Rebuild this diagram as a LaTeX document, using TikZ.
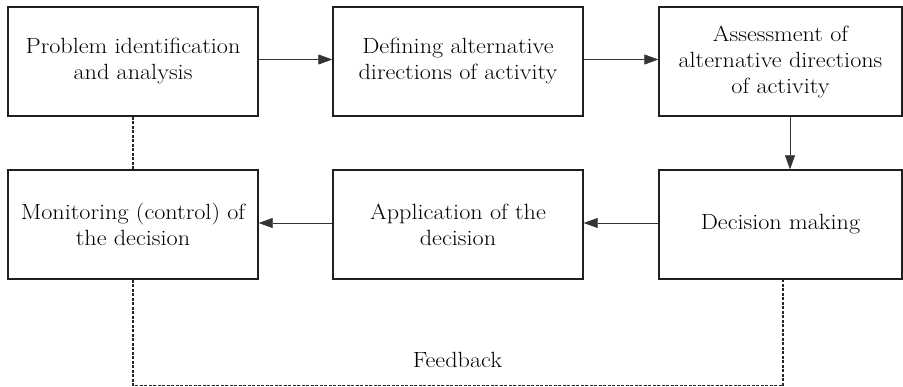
\documentclass[tikz,border=0pt]{standalone}
\usepackage{fontspec}
\setmainfont{Latin Modern Roman}[FakeStretch=1.1]
\usetikzlibrary{arrows.meta}
\begin{document}
\begin{tikzpicture}[x=1pt,y=1pt,
  box/.style={draw=black!88, line width=1.4pt, minimum height=109pt, align=center, inner sep=0pt,
    font=\fontsize{22}{26}\selectfont},
  arr/.style={line width=0.6pt, draw=black!80, -{Triangle[length=14pt,width=10pt]}},
  fb/.style={line width=1.2pt, draw=black!85, dash pattern=on 3pt off 1.5pt}]
\useasboundingbox (0,0) rectangle (903,387);
\node[box, minimum width=250pt] (b1) at (133,325.5) {Problem identification\\and analysis};
\node[box, minimum width=250pt] (b2) at (458,325.5) {Defining alternative\\directions of activity};
\node[box, minimum width=243pt] (b3) at (780.5,325.5) {Assessment of\\alternative directions\\of activity};
\node[box, minimum width=250pt] (b4) at (133,162.5) {Monitoring (control) of\\the decision};
\node[box, minimum width=250pt] (b5) at (458,162.5) {Application of the\\decision};
\node[box, minimum width=243pt] (b6) at (780.5,162.5) {Decision making};
\draw[arr] ([yshift=2pt]b1.east) -- ([yshift=2pt]b2.west);
\draw[arr] ([yshift=2pt]b2.east) -- ([yshift=2pt]b3.west);
\draw[arr] ([xshift=9.5pt]b3.south) -- ([xshift=9.5pt]b6.north);
\draw[arr] ([yshift=1.5pt]b6.west) -- ([yshift=1.5pt]b5.west -| b5.east);
\draw[arr] ([yshift=1.5pt]b5.west) -- ([yshift=1.5pt]b4.west -| b4.east);
\draw[fb] (b1.south) -- (b4.north);
\coordinate (c1) at ([yshift=-106pt]b4.south);
\coordinate (fbend) at ([xshift=2.5pt]b6.south);
\draw[fb] (b4.south) -- (c1) -- (c1 -| fbend) -- (fbend);
\node[font=\fontsize{22}{26}\selectfont] (fbl) at (457.5,27.5) {Feedback};
\end{tikzpicture}
\end{document}
